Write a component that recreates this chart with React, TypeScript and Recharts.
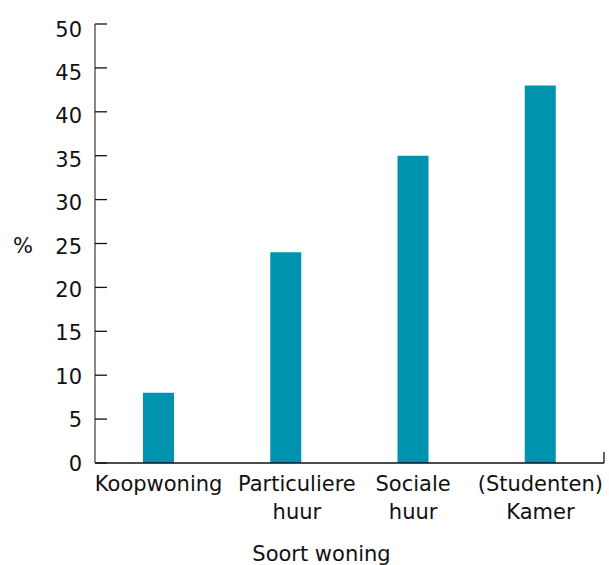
import { BarChart, Bar, XAxis, YAxis, Label } from 'recharts';

const categories = ['Koopwoning', 'Particuliere huur', 'Sociale huur', '(Studenten) Kamer'];
const percentages = [8, 24, 35, 43];
const yTicks = [0, 5, 10, 15, 20, 25, 30, 35, 40, 45, 50];

const data = categories.map((name, i) => ({ name, value: percentages[i] }));

const FONT = '"DejaVu Sans", Verdana, sans-serif';
const FONT_SIZE = 21;
const WIDTH = 609;
const HEIGHT = 565;
const MARGIN = { top: 24, right: 5, bottom: 0, left: 0 };
const Y_WIDTH = 95;
const X_HEIGHT = 102;
const BAND = (WIDTH - Y_WIDTH - MARGIN.right) / categories.length;

function YTick(props: any) {
  const { x, y, payload } = props;
  // labels in the original sit a little lower towards the top of the axis
  const dy = 7.5 + payload.value * 0.1;
  return (
    <g>
      <line x1={x + 13} x2={x + 25} y1={y} y2={y} stroke="#111" strokeWidth={1.3} />
      <text x={x} y={y} dy={dy} textAnchor="end" fontFamily={FONT} fontSize={FONT_SIZE} fill="#111">
        {payload.value}
      </text>
    </g>
  );
}

function XTick(props: any) {
  const { x, y, payload, index } = props;
  const lines = String(payload.value).split(' ');
  const tx = index === 1 ? x + 11 : x;
  return (
    <g>
      {index === categories.length - 1 && (
        <line x1={x + BAND / 2} x2={x + BAND / 2} y1={y - 11} y2={y - 22} stroke="#111" strokeWidth={1.3} />
      )}
      <text x={tx} y={y} textAnchor="middle" fontFamily={FONT} fontSize={FONT_SIZE} fill="#111">
        {lines.map((l, i) => (
          <tspan key={i} x={tx} dy={i === 0 ? 17 : 28}>
            {l}
          </tspan>
        ))}
      </text>
    </g>
  );
}

export default function App() {
  return (
    <div style={{ position: 'absolute', left: 0, top: 0, background: '#fff' }}>
      <BarChart width={WIDTH} height={HEIGHT} data={data} margin={MARGIN} barSize={31}>
        <XAxis
          dataKey="name"
          height={X_HEIGHT}
          tickLine={false}
          tickSize={0}
          tickMargin={11}
          interval={0}
          stroke="#111"
          axisLine={{ stroke: '#111', strokeWidth: 1.5 }}
          tick={<XTick />}
        >
          <Label
            content={(p: any) => {
              const vb = p.viewBox;
              return (
                <text
                  x={vb.x + vb.width / 2 - 28}
                  y={vb.y + 98}
                  textAnchor="middle"
                  fontFamily={FONT}
                  fontSize={FONT_SIZE}
                  fill="#111"
                >
                  Soort woning
                </text>
              );
            }}
          />
        </XAxis>
        <YAxis
          width={Y_WIDTH}
          domain={[0, 50]}
          ticks={yTicks}
          interval={0}
          tickLine={false}
          tickSize={0}
          tickMargin={13}
          axisLine={{ stroke: '#888', strokeWidth: 2 }}
          tick={<YTick />}
        >
          <Label
            content={(p: any) => {
              const vb = p.viewBox;
              return (
                <text
                  x={13}
                  y={vb.y + vb.height / 2 + 9}
                  fontFamily={FONT}
                  fontSize={FONT_SIZE}
                  fill="#111"
                >
                  %
                </text>
              );
            }}
          />
        </YAxis>
        <Bar dataKey="value" fill="#0093b0" isAnimationActive={false} />
      </BarChart>
    </div>
  );
}
